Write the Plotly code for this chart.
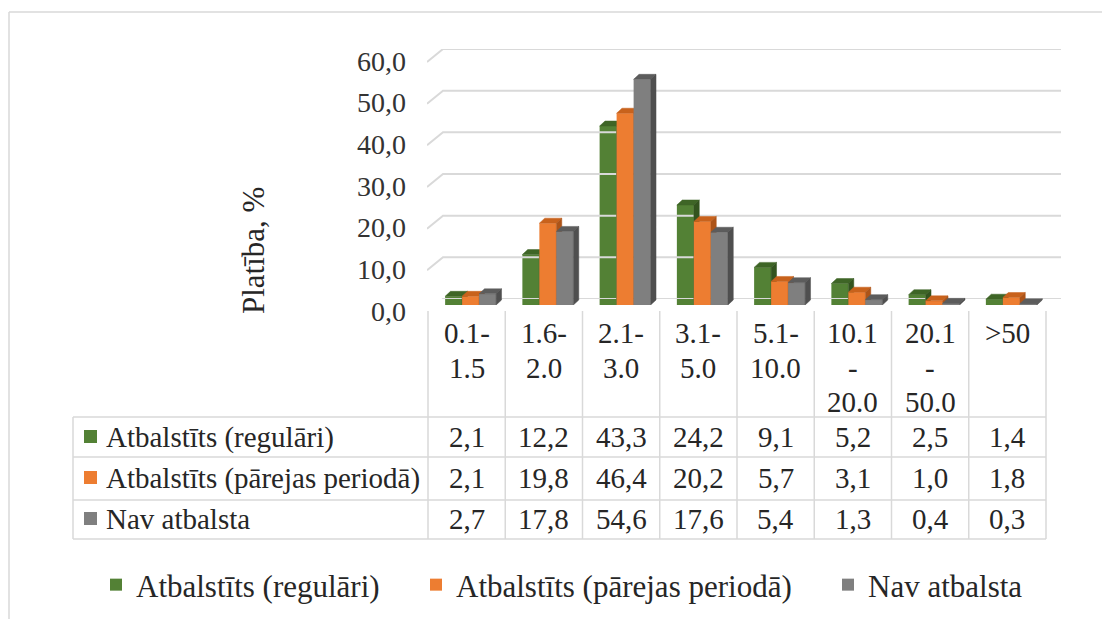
import plotly.graph_objects as go

# ---- data -------------------------------------------------------------
categories = ["0.1-1.5", "1.6-2.0", "2.1-3.0", "3.1-5.0", "5.1-10.0",
              "10.1-20.0", "20.1-50.0", ">50"]
header_lines = [["0.1-", "1.5"], ["1.6-", "2.0"], ["2.1-", "3.0"], ["3.1-", "5.0"],
                ["5.1-", "10.0"], ["10.1", "-", "20.0"], ["20.1", "-", "50.0"], [">50"]]
series_names = ["Atbalstīts (regulāri)", "Atbalstīts (pārejas periodā)", "Nav atbalsta"]
regulari = [2.1, 12.2, 43.3, 24.2, 9.1, 5.2, 2.5, 1.4]
parejas = [2.1, 19.8, 46.4, 20.2, 5.7, 3.1, 1.0, 1.8]
nav_atbalsta = [2.7, 17.8, 54.6, 17.6, 5.4, 1.3, 0.4, 0.3]
y_ticks = [0, 10, 20, 30, 40, 50, 60]
y_title = "Platība, %"

series_values = [regulari, parejas, nav_atbalsta]

# ---- styling ----------------------------------------------------------
W, H = 1102, 619
FONT = "'Liberation Serif', 'Times New Roman', 'DejaVu Serif', serif"
TEXT = "#262626"
GRID = "#d9d9d9"
front_cols = ["#538135", "#ed7d31", "#7f7f7f"]
top_cols = ["#3e6526", "#c8621c", "#5c5c5c"]
side_cols = ["#33541f", "#ad5418", "#4f4f4f"]


def fx(p):
    return p / W


def fy(p):
    return 1 - p / H


# pixel frame of the plot
col_left, col_right = 428, 1046          # table columns / category slots
bar_base, bar_top60 = 305, 57           # front plane: value 0 and 60
grid_base, grid_top60 = 299, 49         # back wall: value 0 and 60
grid_x0, grid_x1, grid_x_wall = 427, 1061, 443
n = len(categories)
slot = (col_right - col_left) / n
px_per_unit = (bar_base - bar_top60) / 60

bar_w = 17 / slot                  # bar width in category units
shift = 4 / slot                   # small depth shift of the group
dx = 5.4 / slot                    # 3D depth, horizontal
dy = 5.0 / px_per_unit             # 3D depth, vertical

fig = go.Figure()

# ---- back-wall gridlines (with side-wall segment) --------------------
gx, gy = [], []
wall_drop = 13 / ((grid_base - grid_top60) / 60)
for t in y_ticks:
    gx += [grid_x0, grid_x_wall, grid_x1, None]
    gy += [t - wall_drop, t, t, None]
fig.add_trace(go.Scatter(x=gx, y=gy, mode="lines", xaxis="x2", yaxis="y2",
                         line=dict(color=GRID, width=2), hoverinfo="skip",
                         showlegend=False))

# ---- 3D bars -----------------------------------------------------------
legends = ["legend", "legend2", "legend3"]
for j, (name, vals) in enumerate(zip(series_names, series_values)):
    offset = -1.5 * bar_w + shift + j * bar_w
    fig.add_trace(go.Bar(
        x=list(range(n)), y=vals, width=bar_w, offset=offset, name=name,
        marker=dict(color=front_cols[j], line=dict(width=0)),
        legend=legends[j], zorder=3 * j, hoverinfo="skip"))
    tx, ty, sx, sy = [], [], [], []
    for i, v in enumerate(vals):
        L = i + offset
        R = L + bar_w
        tx += [L, L + dx, R + dx, R, L, None]
        ty += [v, v + dy, v + dy, v, v, None]
        sx += [R, R + dx, R + dx, R, R, None]
        sy += [0, dy, v + dy, v, 0, None]
    fig.add_trace(go.Scatter(x=tx, y=ty, fill="toself", mode="lines",
                             fillcolor=top_cols[j],
                             line=dict(color=top_cols[j], width=0.5),
                             showlegend=False, hoverinfo="skip", zorder=3 * j + 1))
    fig.add_trace(go.Scatter(x=sx, y=sy, fill="toself", mode="lines",
                             fillcolor=side_cols[j],
                             line=dict(color=side_cols[j], width=0.5),
                             showlegend=False, hoverinfo="skip", zorder=3 * j + 2))

# ---- data table --------------------------------------------------------
shapes = []
annotations = []
row_lines = [417, 457, 500, 539]
row_centers = [437, 478, 519]
table_left = 73
line_style = dict(color=GRID, width=1.5)

for yl in row_lines:
    shapes.append(dict(type="line", xref="paper", yref="paper",
                       x0=fx(table_left), x1=fx(col_right), y0=fy(yl), y1=fy(yl),
                       line=line_style))
shapes.append(dict(type="line", xref="paper", yref="paper",
                   x0=fx(table_left), x1=fx(table_left),
                   y0=fy(row_lines[0]), y1=fy(row_lines[-1]), line=line_style))
for k in range(n + 1):
    xc = col_left + k * slot
    shapes.append(dict(type="line", xref="paper", yref="paper",
                       x0=fx(xc), x1=fx(xc), y0=fy(311), y1=fy(row_lines[-1]),
                       line=line_style))

# category headers
for i, lines in enumerate(header_lines):
    for k, txt in enumerate(lines):
        annotations.append(dict(x=i, xref="x", y=fy(333 + 34.5 * k), yref="paper",
                                text=txt, showarrow=False, xanchor="center",
                                yanchor="middle",
                                font=dict(family=FONT, size=29, color=TEXT)))

# row labels with colour keys, and values
for r, (name, vals) in enumerate(zip(series_names, series_values)):
    yc = row_centers[r]
    shapes.append(dict(type="rect", xref="paper", yref="paper",
                       x0=fx(84), x1=fx(97), y0=fy(yc + 6), y1=fy(yc - 7),
                       fillcolor=front_cols[r], line=dict(width=0)))
    annotations.append(dict(x=fx(104), xref="paper", y=fy(yc), yref="paper",
                            text=name, showarrow=False, xanchor="left",
                            yanchor="middle",
                            font=dict(family=FONT, size=29, color=TEXT)))
    for i, v in enumerate(vals):
        annotations.append(dict(x=i, xref="x", y=fy(yc), yref="paper",
                                text=f"{v:.1f}".replace(".", ","), showarrow=False,
                                xanchor="center", yanchor="middle",
                                font=dict(family=FONT, size=29, color=TEXT)))

# axis title
annotations.append(dict(x=fx(253), xref="paper", y=fy(251), yref="paper",
                        text=y_title, textangle=-90, showarrow=False,
                        xanchor="center", yanchor="middle",
                        font=dict(family=FONT, size=31, color=TEXT)))

# outer frame (left and top edges)
shapes.append(dict(type="line", xref="paper", yref="paper", x0=fx(9), x1=fx(9),
                   y0=0, y1=fy(12), line=dict(color=GRID, width=1.5)))
shapes.append(dict(type="line", xref="paper", yref="paper", x0=fx(9), x1=1,
                   y0=fy(12), y1=fy(12), line=dict(color=GRID, width=1.5)))

# ---- legends -----------------------------------------------------------
legend_font = dict(family=FONT, size=31, color=TEXT)
legend_x = [110, 430, 842]
leg_common = dict(orientation="h", yanchor="middle", y=fy(585), xanchor="left",
                  font=legend_font, bgcolor="rgba(0,0,0,0)", borderwidth=0)

fig.update_layout(
    width=W, height=H,
    margin=dict(l=0, r=0, t=0, b=0, autoexpand=False),
    paper_bgcolor="white", plot_bgcolor="rgba(0,0,0,0)",
    barmode="overlay",
    showlegend=True,
    font=dict(family=FONT, color=TEXT),
    legend=dict(x=fx(legend_x[0] - 14), **leg_common),
    legend2=dict(x=fx(legend_x[1] - 14), **leg_common),
    legend3=dict(x=fx(legend_x[2] - 14), **leg_common),
    xaxis=dict(domain=[fx(col_left), fx(col_right)], range=[-0.5, n - 0.5],
               visible=False, fixedrange=True, automargin=False),
    yaxis=dict(domain=[fy(bar_base), fy(bar_top60)], range=[0, 60],
               visible=False, fixedrange=True, automargin=False),
    xaxis2=dict(domain=[fx(grid_x0), fx(grid_x1)], range=[grid_x0, grid_x1],
                visible=False, anchor="y2", fixedrange=True, automargin=False),
    yaxis2=dict(domain=[fy(grid_base), fy(grid_top60)], range=[0, 60],
                anchor="x2", showgrid=False, zeroline=False, showline=False,
                tickvals=y_ticks,
                ticktext=[f"{t:.1f}".replace(".", ",") for t in y_ticks],
                ticks="", ticklabelstandoff=20, ticklabelshift=12,
                tickfont=dict(family=FONT, size=28, color="#333333"),
                fixedrange=True, automargin=False),
    shapes=shapes,
    annotations=annotations,
)

fig.write_html("out.html")
